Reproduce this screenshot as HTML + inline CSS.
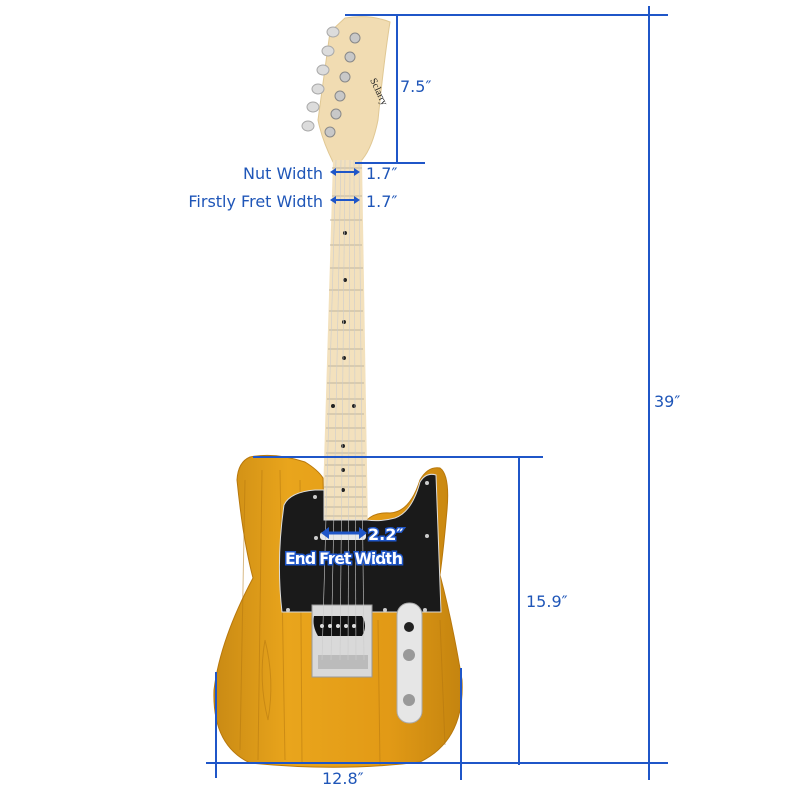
<!DOCTYPE html>
<html><head><meta charset="utf-8"><style>
html,body{margin:0;padding:0;background:#fff;width:800px;height:800px;overflow:hidden}
svg{display:block}
.t{font-family:"DejaVu Sans","Liberation Sans",sans-serif;fill:#1f56b8;font-size:16px}
</style></head><body>
<svg width="800" height="800" viewBox="0 0 800 800" xmlns="http://www.w3.org/2000/svg">
<defs>
<linearGradient id="wood" x1="0" x2="1" y1="0" y2="0">
<stop offset="0" stop-color="#c98a14"/><stop offset="0.3" stop-color="#e9a51c"/><stop offset="0.7" stop-color="#e29a16"/><stop offset="1" stop-color="#c4840f"/>
</linearGradient>
</defs>
<!-- headstock -->
<path d="M345 18 Q370 14 390 22 Q384 60 378 120 Q372 150 360 162 L333 162 Q322 140 318 120 L330 32 Z" fill="#f1dcb2" stroke="#e0c894"/>
<g fill="#c8c8c8" stroke="#888">
<circle cx="355" cy="38" r="5"/><circle cx="350" cy="57" r="5"/><circle cx="345" cy="77" r="5"/><circle cx="340" cy="96" r="5"/><circle cx="336" cy="114" r="5"/><circle cx="330" cy="132" r="5"/>
</g>
<g fill="#dcdcdc" stroke="#aaa">
<ellipse cx="333" cy="32" rx="6" ry="5"/><ellipse cx="328" cy="51" rx="6" ry="5"/><ellipse cx="323" cy="70" rx="6" ry="5"/><ellipse cx="318" cy="89" rx="6" ry="5"/><ellipse cx="313" cy="107" rx="6" ry="5"/><ellipse cx="308" cy="126" rx="6" ry="5"/>
</g>
<text x="0" y="0" transform="translate(370,80) rotate(65)" font-family="Liberation Serif,serif" font-size="10" fill="#222">Sclarry</text>
<!-- neck -->
<path d="M333 160 L362 160 L368 530 L322 530 Z" fill="#f3e1bd"/>
<g stroke="#bfb5a0" stroke-width="1">
<line x1="332" y1="168" x2="362" y2="168"/><line x1="332" y1="196" x2="362" y2="196"/><line x1="330" y1="220" x2="362" y2="220"/><line x1="330" y1="245" x2="362" y2="245"/><line x1="330" y1="268" x2="363" y2="268"/><line x1="329" y1="290" x2="363" y2="290"/><line x1="329" y1="311" x2="363" y2="311"/><line x1="329" y1="330" x2="363" y2="330"/><line x1="328" y1="349" x2="363" y2="349"/><line x1="328" y1="366" x2="364" y2="366"/><line x1="327" y1="383" x2="364" y2="383"/><line x1="327" y1="399" x2="364" y2="399"/><line x1="327" y1="414" x2="364" y2="414"/><line x1="326" y1="428" x2="365" y2="428"/><line x1="326" y1="441" x2="365" y2="441"/><line x1="326" y1="453" x2="365" y2="453"/><line x1="325" y1="465" x2="365" y2="465"/><line x1="325" y1="476" x2="366" y2="476"/><line x1="324" y1="487" x2="366" y2="487"/><line x1="324" y1="497" x2="366" y2="497"/><line x1="324" y1="507" x2="367" y2="507"/><line x1="323" y1="516" x2="367" y2="516"/>
</g>
<g fill="#222"><circle cx="345" cy="233" r="2"/><circle cx="345" cy="280" r="2"/><circle cx="344" cy="322" r="2"/><circle cx="344" cy="358" r="2"/><circle cx="333" cy="406" r="2"/><circle cx="354" cy="406" r="2"/><circle cx="343" cy="446" r="2"/><circle cx="343" cy="470" r="2"/><circle cx="343" cy="490" r="2"/></g>
<!-- body -->
<path d="M250 457 Q275 452 305 462 Q318 470 323 478 L324 520 L367 520 Q375 512 390 513 Q410 512 420 480 Q428 466 440 468 Q450 475 447 510 Q444 545 440 575 Q452 620 462 680 Q465 740 420 762 Q340 772 250 763 Q212 745 214 690 Q220 640 253 578 Q243 540 237 480 Q238 462 250 457 Z" fill="url(#wood)" stroke="#b8780c"/>
<g stroke="#b27510" stroke-width="1" opacity="0.5" fill="none">
<path d="M245 480 L240 750"/><path d="M262 470 L258 760"/><path d="M280 470 L285 760"/><path d="M300 480 L302 762"/><path d="M378 620 L380 765"/><path d="M440 620 L445 745"/><path d="M265 640 Q275 680 268 720 Q258 680 265 640"/>
</g>
<!-- pickguard -->
<path d="M315 490 L324 490 L324 520 L367 520 Q380 522 395 518 Q412 512 420 482 Q426 472 436 475 L441 612 L282 612 Q276 560 284 505 Q290 492 315 490 Z" fill="#1a1a1a" stroke="#ddd" stroke-width="1"/>
<g fill="#ccc"><circle cx="315" cy="497" r="2"/><circle cx="316" cy="538" r="2"/><circle cx="427" cy="483" r="2"/><circle cx="427" cy="536" r="2"/><circle cx="288" cy="610" r="2"/><circle cx="385" cy="610" r="2"/><circle cx="425" cy="610" r="2"/></g>
<rect x="320" y="532" width="46" height="8" rx="3" fill="#e8e8e8"/>
<!-- bridge -->
<rect x="312" y="605" width="60" height="72" fill="#d9d9d9" stroke="#999"/>
<path d="M314 616 L362 616 Q368 626 362 636 L318 636 Q312 626 314 616 Z" fill="#111"/>
<g fill="#ddd"><circle cx="322" cy="626" r="2"/><circle cx="330" cy="626" r="2"/><circle cx="338" cy="626" r="2"/><circle cx="346" cy="626" r="2"/><circle cx="354" cy="626" r="2"/></g>
<rect x="318" y="655" width="50" height="14" fill="#bbb"/>
<!-- control plate -->
<rect x="397" y="603" width="25" height="120" rx="12" fill="#e6e6e6" stroke="#aaa"/>
<circle cx="409" cy="627" r="5" fill="#222"/><circle cx="409" cy="655" r="6" fill="#999"/><circle cx="409" cy="700" r="6" fill="#999"/>
<!-- strings -->
<g stroke="#ccc" stroke-width="0.6"><line x1="336" y1="160" x2="322" y2="660"/><line x1="341" y1="160" x2="331" y2="660"/><line x1="345" y1="160" x2="340" y2="660"/><line x1="350" y1="160" x2="348" y2="660"/><line x1="354" y1="160" x2="356" y2="660"/><line x1="359" y1="160" x2="364" y2="660"/></g>
<!-- dimension lines -->
<g stroke="#1f56c8" stroke-width="2" fill="none">
<line x1="345" y1="15" x2="668" y2="15"/>
<line x1="649" y1="6" x2="649" y2="780"/>
<line x1="397" y1="15" x2="397" y2="163"/>
<line x1="355" y1="163" x2="425" y2="163"/>
<line x1="253" y1="457" x2="543" y2="457"/>
<line x1="519" y1="457" x2="519" y2="765"/>
<line x1="206" y1="763" x2="668" y2="763"/>
<line x1="216" y1="672" x2="216" y2="778"/>
<line x1="461" y1="668" x2="461" y2="780"/>
<line x1="333" y1="172" x2="357" y2="172"/><line x1="333" y1="200" x2="357" y2="200"/>
<line x1="326" y1="533" x2="362" y2="533" stroke-width="3"/>
</g>
<g fill="#1f56c8">
<path d="M330 172 L336 168 L336 176 Z"/><path d="M360 172 L354 168 L354 176 Z"/>
<path d="M330 200 L336 196 L336 204 Z"/><path d="M360 200 L354 196 L354 204 Z"/>
<path d="M321 533 L329 527 L329 539 Z"/><path d="M367 533 L359 527 L359 539 Z"/>
</g>
<text class="t" x="400" y="92">7.5″</text>
<text class="t" x="654" y="407">39″</text>
<text class="t" x="526" y="607">15.9″</text>
<text class="t" x="322" y="784">12.8″</text>
<text class="t" x="323" y="179" text-anchor="end">Nut Width</text>
<text class="t" x="366" y="179">1.7″</text>
<text class="t" x="323" y="207" text-anchor="end">Firstly Fret Width</text>
<text class="t" x="366" y="207">1.7″</text>
<text x="368" y="540" font-family="DejaVu Sans,sans-serif" font-size="16" font-weight="bold" fill="#fff" stroke="#1f56c8" stroke-width="3" paint-order="stroke">2.2″</text>
<text x="285" y="564" font-family="DejaVu Sans,sans-serif" font-size="16" font-weight="bold" fill="#fff" stroke="#1f56c8" stroke-width="3" paint-order="stroke" textLength="118">End Fret Width</text>
</svg>
</body></html>
